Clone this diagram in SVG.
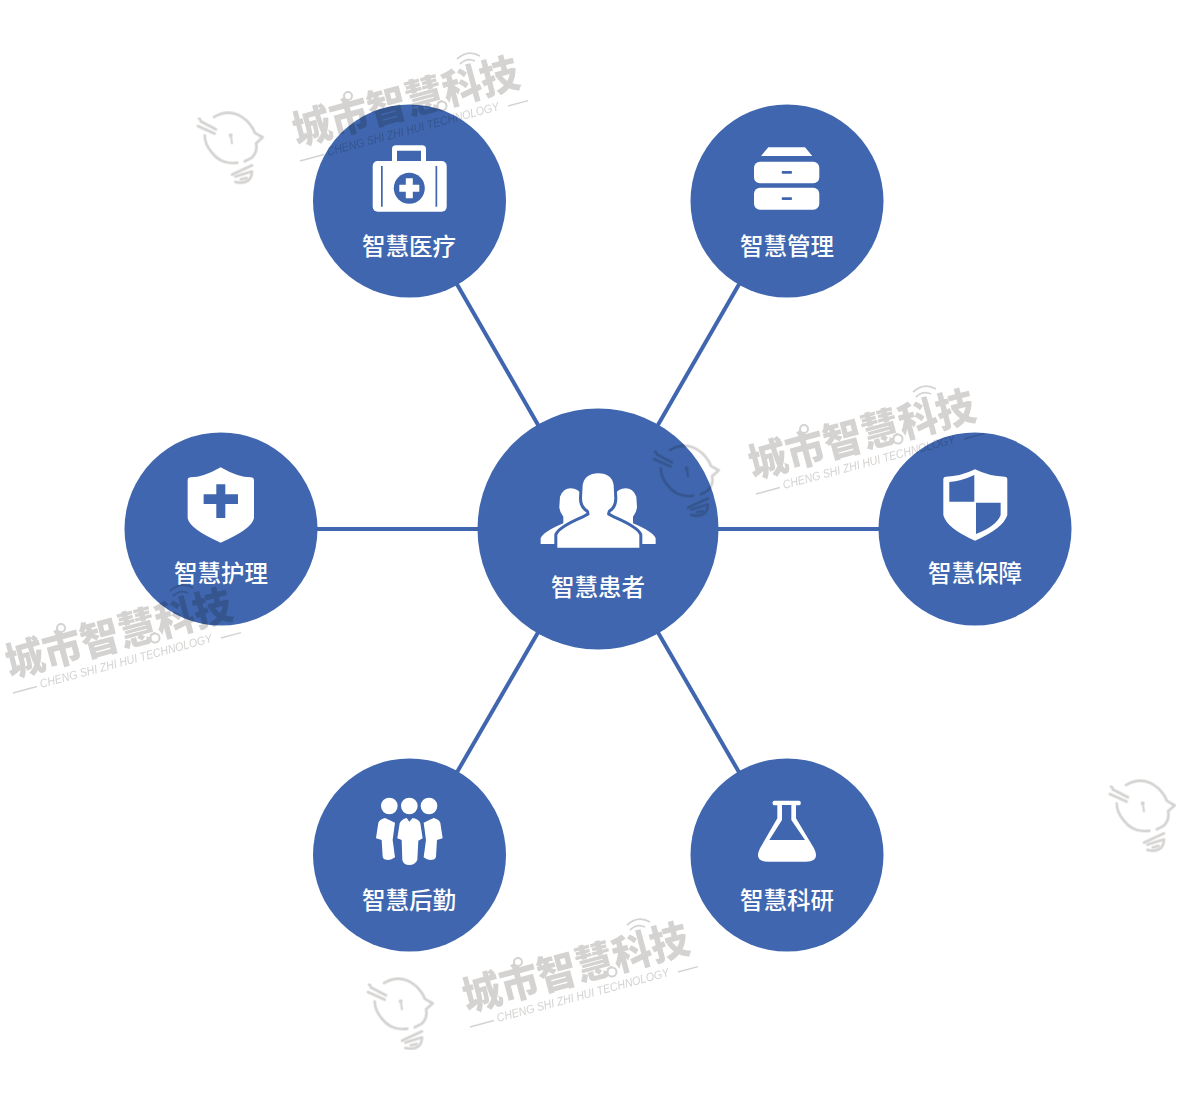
<svg xmlns="http://www.w3.org/2000/svg" xmlns:xlink="http://www.w3.org/1999/xlink" width="1200" height="1095" viewBox="0 0 1200 1095">
<style>
.c{fill:#3f66ae}
.l{font-family:"Noto Sans CJK SC","Noto Sans",sans-serif;font-size:23.5px;font-weight:500;fill:#fff;text-anchor:middle}
.w{fill:#fff}
.b{fill:#3f66ae}
.link{stroke:#3f66ae;stroke-width:4;fill:none}
.wm{mix-blend-mode:multiply}
.wt{font-family:"Noto Sans CJK SC",sans-serif;font-size:41px;font-weight:900;fill:#d5d3d1}
.ws{font-family:"Liberation Sans",sans-serif;font-size:12px;font-style:italic;fill:#d5d3d1}
.ln{stroke:#d5d3d1;stroke-width:1.3;fill:none}
.bl{stroke:#d5d3d1;stroke-width:8;fill:none;stroke-linecap:round;stroke-linejoin:round}
</style>
<defs>
<g id="bulb" transform="translate(358,968) scale(.3333)">
<path class="bl" d="M78,45Q130,15 175,55Q195,75 200,92L224,106L204,124Q210,150 190,168L170,178"/>
<path class="bl" d="M148,182Q100,190 70,150Q50,125 50,100"/>
<path class="bl" d="M33,50L37,52M30,72L80,95M38,58L84,82"/>
<path class="bl" d="M132,218L192,190M142,240Q190,250 192,208L142,224M158,232L176,228"/>
<path class="bl" d="M128,100L132,124" style="stroke-width:6"/>
<circle cx="128" cy="100" r="6" fill="#d5d3d1"/>
</g>
<g id="brand">
<g transform="translate(467,1012) rotate(-15)">
<text class="wt" x="0" y="0" textLength="233" lengthAdjust="spacingAndGlyphs">城市智慧科技</text>
</g>
<circle cx="518" cy="962" r="4" fill="#fff" stroke="#d5d3d1" stroke-width="2"/>
<circle cx="612" cy="972" r="4.500" fill="#fff" stroke="#d5d3d1" stroke-width="2"/>
<path class="ln" d="M630,930Q637,923 645,927M627,925Q638,915 650,922" style="stroke-width:1.800"/>
<path class="ln" d="M470,1027L494,1020.500M678,972L698,966.700"/>
<text class="ws" transform="translate(498,1022) rotate(-15)" textLength="178" lengthAdjust="spacingAndGlyphs">CHENG SHI ZHI HUI TECHNOLOGY</text>
</g>
</defs>
<rect width="1200" height="1095" fill="#fff"/>
<g id="connectors">
<path class="link" d="M598,529L409,201"/>
<path class="link" d="M598,529L787,201"/>
<path class="link" d="M598,529L221,529"/>
<path class="link" d="M598,529L975,529"/>
<path class="link" d="M598,529L409,855"/>
<path class="link" d="M598,529L787,855"/>
</g>
<g id="node-center">
<circle class="c" cx="598" cy="529" r="120.500"/>
<g transform="translate(480,400) scale(.3333)">
<path class="w" d="M182,432L182,415Q190,395 250,370L250,350Q238,335 238,320L240,290Q250,265 272,265Q295,265 305,285L340,400L300,432Z"/>
<path class="w" transform="translate(709,0) scale(-1,1)" d="M182,432L182,415Q190,395 250,370L250,350Q238,335 238,320L240,290Q250,265 272,265Q295,265 305,285L340,400L300,432Z"/>
<path class="w" stroke="#3f66ae" stroke-width="18" paint-order="stroke" d="M232,443L232,405Q240,385 310,355L328,345Q330,340 325,330Q306,320 306,295L308,255Q315,220 355,220Q395,220 401,255L403,295Q403,320 385,330Q380,340 382,345L400,355Q470,385 478,405L478,443Z"/>
</g>
<text class="l" x="598" y="596">智慧患者</text>
</g>
<g id="node-medical">
<circle class="c" cx="409.500" cy="201" r="96.500"/>
<path class="w" fill-rule="evenodd" d="M392,161V149Q392,145.300 396,145.300H422Q426,145.300 426,149V161H421V150.700H397V161Z"/>
<rect class="w" x="372.700" y="161" width="74" height="50.700" rx="5"/>
<path class="b" d="M381,166h1.700v40.700h-1.700zM435.500,166h1.700v40.700h-1.700z"/>
<circle class="b" cx="409.300" cy="188.300" r="15.500"/>
<path class="w" d="M405.800,178.300h7v6.500h6.500v7h-6.500v6.500h-7v-6.500h-6.500v-7h6.500z"/>
<text class="l" x="409" y="255">智慧医疗</text>
</g>
<g id="node-manage">
<circle class="c" cx="787" cy="201" r="96.500"/>
<path class="w" d="M761,156L768.300,147.300H805L812.300,156Z"/>
<rect class="w" x="754" y="161.700" width="65.300" height="21.600" rx="6"/>
<rect class="w" x="754" y="187.700" width="65.300" height="22" rx="6"/>
<rect class="b" x="781.700" y="171" width="10.300" height="2.700" rx="1"/>
<rect class="b" x="781.700" y="197.300" width="10.300" height="2.700" rx="1"/>
<text class="l" x="787" y="255">智慧管理</text>
</g>
<g id="node-nursing">
<circle class="c" cx="221" cy="529" r="96.500"/>
<g transform="translate(0,450) scale(.3333)">
<path class="w" d="M662,52Q610,82 572,82Q563,82 563,92V205Q570,238 662,278Q755,238 762,205V92Q762,82 752,82Q714,82 662,52Z"/>
<path class="b" d="M649,103h27v30h38v29h-38v42h-27v-42h-38v-29h38z"/>
</g>
<text class="l" x="221" y="582">智慧护理</text>
</g>
<g id="node-security">
<circle class="c" cx="975" cy="529" r="96.500"/>
<g transform="translate(740,380) scale(.3333)">
<path class="w" d="M705,268Q660,290 618,290Q610,290 610,298V405Q620,445 705,482Q790,445 802,405V298Q802,290 794,290Q750,290 705,268Z"/>
<path class="b" d="M628,306Q665,303 703,285V365H628ZM708,368H782V405Q770,438 708,462Z"/>
</g>
<text class="l" x="975" y="582">智慧保障</text>
</g>
<g id="node-logistics">
<circle class="c" cx="409.500" cy="855" r="96.500"/>
<g transform="translate(340,780) scale(.3333)">
<circle class="w" cx="148" cy="78" r="25"/><circle class="w" cx="208" cy="78" r="25"/><circle class="w" cx="267" cy="78" r="25"/>
<path class="w" d="M172,175L179,130Q184,118 200,114L208,125L218,114Q238,118 241,130L248,175L235,182L232,240Q225,255 208,255Q190,255 187,240L185,180Z"/>
<path class="w" d="M108,175L115,128Q120,118 135,114L148,120L165,128L158,180L165,232Q155,240 145,240Q130,240 128,230L125,180Z"/>
<path class="w" transform="translate(416,0) scale(-1,1)" d="M108,175L115,128Q120,118 135,114L148,120L165,128L158,180L165,232Q155,240 145,240Q130,240 128,230L125,180Z"/>
</g>
<text class="l" x="409" y="909">智慧后勤</text>
</g>
<g id="node-research">
<circle class="c" cx="787" cy="855" r="96.500"/>
<g transform="translate(720,780) scale(.3333)">
<rect class="w" x="158" y="62" width="84" height="14" rx="5"/>
<path class="w" d="M172,75V115L120,205Q100,245 145,245H258Q302,245 282,205L228,115V75Z"/>
<path class="b" d="M186,75V120L148,180H255L214,120V75Z"/>
</g>
<text class="l" x="787" y="909">智慧科研</text>
</g>
<g id="watermarks" class="wm">
<use xlink:href="#brand" href="#brand" transform="translate(-170,-866)"/>
<use xlink:href="#bulb" href="#bulb" transform="translate(-170,-866)"/>
<use xlink:href="#brand" href="#brand" transform="translate(286,-533)"/>
<use xlink:href="#bulb" href="#bulb" transform="translate(286,-533)"/>
<use xlink:href="#brand" href="#brand" transform="translate(-457,-334)"/>
<use xlink:href="#brand" href="#brand"/>
<use xlink:href="#bulb" href="#bulb"/>
<use xlink:href="#bulb" href="#bulb" transform="translate(742,-198)"/>
</g>
</svg>
